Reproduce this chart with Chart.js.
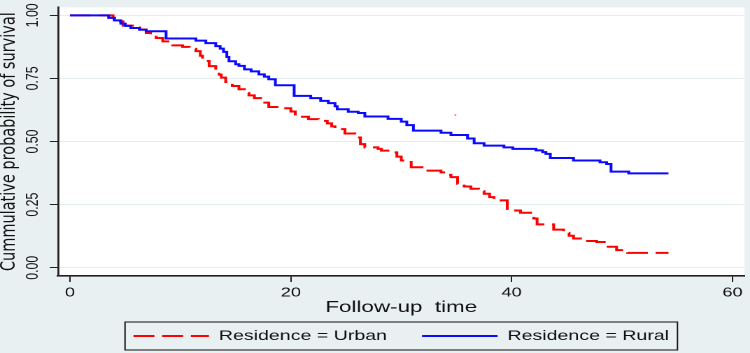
<!DOCTYPE html>
<html>
<head>
<meta charset="utf-8">
<script src="https://cdn.jsdelivr.net/npm/chart.js@4.4.1/dist/chart.umd.min.js"></script>
<style>
  html, body { margin: 0; padding: 0; background: #e9f0f2; overflow: hidden; }
  /* the reference picture is stretched sideways, so the chart is drawn narrow and widened */
  #wrap { width: 536px; height: 353px; transform: scaleX(1.3993); transform-origin: 0 0; }
</style>
</head>
<body>
<div id="wrap"><canvas id="km"></canvas></div>
<script>
// Kaplan-Meier estimates (time, survival)
const urbanTime = [0, 3.9, 4.35, 4.8, 5.85, 6.3, 6.9, 7.3, 7.8, 8.4, 9.3, 10.2, 10.8, 11.4, 11.8, 12.0, 12.6, 13.2, 13.5, 13.7, 14.1, 14.7, 15.3, 15.8, 16.2, 16.7, 17.4, 18.0, 18.9, 20.0, 20.4, 21.6, 22.5, 23.3, 23.7, 24.0, 24.9, 25.8, 26.3, 26.7, 27.9, 28.2, 29.1, 29.6, 30.0, 30.9, 32.1, 33.6, 34.0, 34.5, 35.1, 35.7, 36.3, 37.0, 37.5, 38.0, 38.4, 39.6, 40.8, 42.0, 42.3, 43.8, 44.7, 45.2, 45.6, 46.5, 47.7, 48.6, 49.5, 50.5, 54.2];
const urbanSurv = [1, 0.99, 0.976, 0.959, 0.952, 0.944, 0.93, 0.92, 0.91, 0.897, 0.881, 0.875, 0.867, 0.858, 0.84, 0.819, 0.799, 0.782, 0.765, 0.753, 0.736, 0.72, 0.707, 0.693, 0.683, 0.672, 0.654, 0.637, 0.632, 0.619, 0.598, 0.589, 0.582, 0.572, 0.56, 0.549, 0.532, 0.516, 0.49, 0.477, 0.471, 0.464, 0.457, 0.44, 0.425, 0.398, 0.385, 0.378, 0.368, 0.359, 0.333, 0.322, 0.313, 0.303, 0.293, 0.28, 0.267, 0.227, 0.218, 0.195, 0.172, 0.151, 0.138, 0.127, 0.116, 0.106, 0.102, 0.083, 0.07, 0.059, 0.059];

const ruralTime = [0, 3.5, 4.0, 4.6, 5.0, 5.5, 6.3, 6.9, 8.7, 11.4, 12.3, 13.2, 13.6, 13.9, 14.2, 14.4, 15.0, 15.3, 15.8, 16.4, 17.1, 17.6, 18.0, 18.6, 20.3, 21.8, 22.7, 23.4, 24.0, 24.2, 25.2, 26.1, 26.7, 28.8, 30.0, 30.5, 31.1, 33.6, 34.5, 36.0, 36.6, 37.5, 39.3, 40.1, 42.2, 42.8, 43.1, 43.5, 45.6, 48.0, 48.6, 49.0, 50.6, 54.2];
const ruralSurv = [1, 0.99, 0.98, 0.967, 0.958, 0.95, 0.943, 0.937, 0.908, 0.9, 0.89, 0.878, 0.868, 0.855, 0.835, 0.818, 0.806, 0.8, 0.786, 0.778, 0.766, 0.757, 0.747, 0.723, 0.681, 0.672, 0.661, 0.652, 0.64, 0.628, 0.618, 0.613, 0.599, 0.59, 0.579, 0.565, 0.543, 0.535, 0.526, 0.512, 0.493, 0.484, 0.477, 0.471, 0.465, 0.458, 0.451, 0.435, 0.425, 0.418, 0.411, 0.381, 0.374, 0.374];

// stray red speck in the source image
const speckTime = [34.9];
const speckSurv = [0.605];

const xTicks = [0, 20, 40, 60];
const yTicks = [0, 0.25, 0.5, 0.75, 1];

const seriesNames = ["Residence = Urban", "Residence = Rural"];
const xTitle = "Follow-up  time";
const yTitle = "Cummulative probability of survival";

const sansFont = "'Liberation Sans', Arial, sans-serif";

const toPoints = (xs, ys) => xs.map((x, i) => ({ x, y: ys[i] }));

// white plot region
const plotFill = {
  id: "plotFill",
  beforeDraw(chart) {
    const { ctx, chartArea: a } = chart;
    ctx.save();
    ctx.fillStyle = "#ffffff";
    ctx.fillRect(a.left, a.top, a.right - a.left, a.bottom - a.top);
    ctx.restore();
  }
};

// framed legend like Stata's
const legendFrame = {
  id: "legendFrame",
  afterDraw(chart) {
    const boxes = chart.legend.legendHitBoxes;
    if (!boxes || !boxes.length) return;
    const first = boxes[0], last = boxes[boxes.length - 1];
    const ctx = chart.ctx;
    ctx.save();
    ctx.strokeStyle = "#111";
    ctx.lineWidth = 1;
    ctx.strokeRect(first.left - 6, first.top - 7, last.left + last.width - first.left + 12, first.height + 14);
    ctx.restore();
  }
};

new Chart(document.getElementById("km"), {
  type: "line",
  data: {
    datasets: [
      {
        label: seriesNames[0],
        data: toPoints(urbanTime, urbanSurv),
        borderColor: "#ff0000",
        borderWidth: 2,
        borderDash: [15, 5.5],
        stepped: true,
        pointRadius: 0,
        fill: false
      },
      {
        label: seriesNames[1],
        data: toPoints(ruralTime, ruralSurv),
        borderColor: "#0a0aff",
        borderWidth: 2,
        stepped: true,
        pointRadius: 0,
        fill: false,
        order: -1
      },
      {
        label: "speck",
        type: "scatter",
        data: toPoints(speckTime, speckSurv),
        pointRadius: 0.8,
        pointBackgroundColor: "#ff6060",
        pointBorderWidth: 0,
        showLine: false
      }
    ]
  },
  options: {
    responsive: true,
    maintainAspectRatio: false,
    devicePixelRatio: 2,
    animation: false,
    layout: { padding: { top: 6, right: 1.4, left: 0, bottom: 0 } },
    plugins: {
      tooltip: { enabled: false },
      legend: {
        position: "bottom",
        fullSize: false,
        labels: {
          usePointStyle: true,
          pointStyle: "line",
          pointStyleWidth: 54,
          padding: 25,
          color: "#111",
          font: { family: sansFont, size: 14 },
          generateLabels: chart => {
            const items = Chart.defaults.plugins.legend.labels.generateLabels(chart);
            return items
              .filter(item => item.datasetIndex < 2)
              .sort((a, b) => a.datasetIndex - b.datasetIndex)
              .map(item => {
                const ds = chart.data.datasets[item.datasetIndex];
                item.lineDash = ds.borderDash || [];
                item.lineWidth = ds.borderWidth;
                item.strokeStyle = ds.borderColor;
                item.pointStyle = "line";
                return item;
              });
          }
        }
      }
    },
    scales: {
      x: {
        type: "linear",
        min: -1.08,
        max: 61.08,
        afterBuildTicks: scale => { scale.ticks = xTicks.map(v => ({ value: v })); },
        afterFit: scale => { scale.height = 28; },
        grid: { drawOnChartArea: false, drawTicks: true, tickLength: 6, tickColor: "#222", tickWidth: 1 },
        border: { color: "#222", width: 1.6 },
        ticks: {
          padding: 3,
          color: "#111",
          font: { family: sansFont, size: 13 },
          maxRotation: 0,
          callback: v => String(v)
        },
        title: {
          display: true,
          text: xTitle,
          color: "#111",
          font: { family: sansFont, size: 16 },
          padding: { top: 0, bottom: -13 }
        }
      },
      y: {
        type: "linear",
        min: -0.0327,
        max: 1.0315,
        afterBuildTicks: scale => { scale.ticks = yTicks.map(v => ({ value: v })); },
        afterFit: scale => { scale.width = 41.5; },
        grid: { color: "#e4edf0", lineWidth: 1, drawTicks: true, tickLength: 6, tickColor: "#222", tickWidth: 1 },
        border: { color: "#222", width: 1.4 },
        ticks: {
          padding: 0,
          minRotation: 90,
          maxRotation: 90,
          crossAlign: "center",
          color: "#111",
          font: { family: sansFont, size: 12.3 },
          callback: v => v.toFixed(2)
        },
        title: {
          display: true,
          text: yTitle,
          color: "#111",
          font: { family: "'DejaVu Sans', sans-serif", size: 14.5 },
          padding: { top: -2, bottom: 0 }
        }
      }
    }
  },
  plugins: [plotFill, legendFrame]
});
</script>
</body>
</html>
